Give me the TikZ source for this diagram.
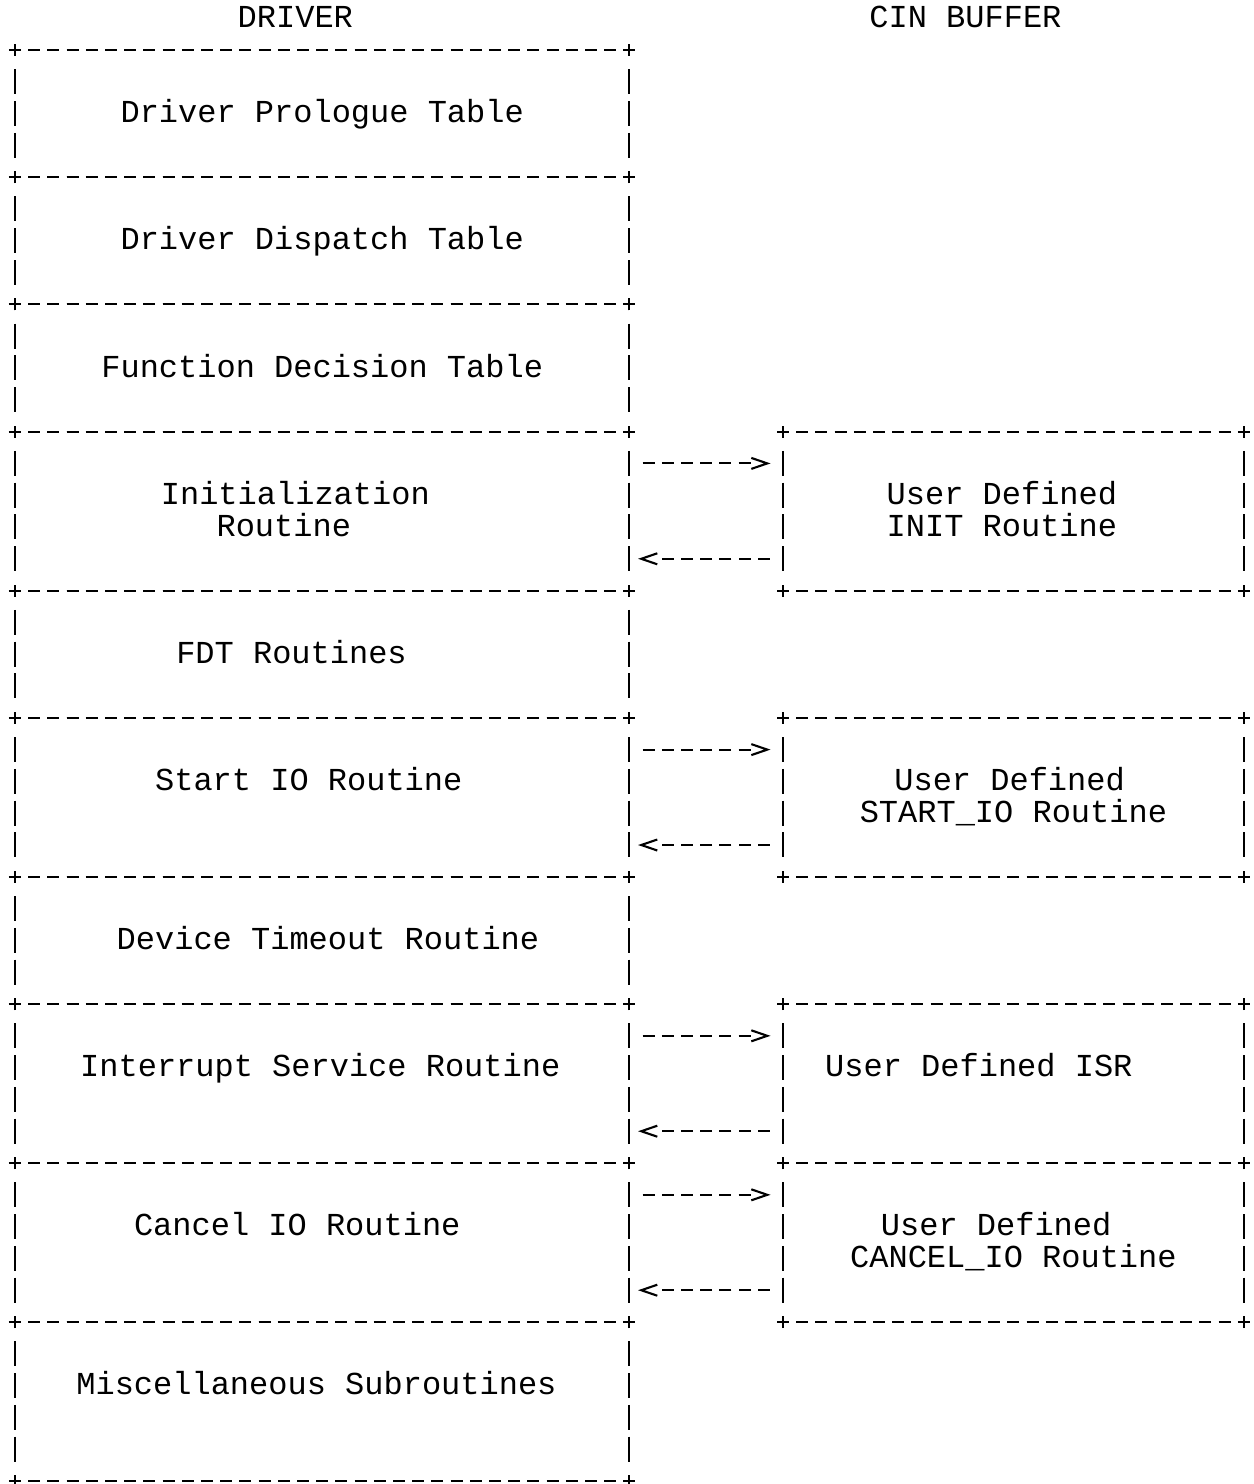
\documentclass[tikz,border=0pt]{standalone}
\usepackage{fontspec}
\setmonofont{Liberation Mono}
\usetikzlibrary{arrows.meta,calc}

\tikzset{
  hdash/.style={dash pattern=on 6pt off 3.6pt},
  vdash/.style={dash pattern=on 12.5pt off 3.4pt},
  adash/.style={dash pattern=on 6pt off 3.6pt on 6pt off 3.6pt on 6pt off 3.6pt on 6pt off 3.6pt on 6pt off 3.6pt on 6pt off 20pt,
    -{Straight Barb[length=8pt,width=5.5pt]}},
  frame/.style={rectangle, inner sep=0pt, outer sep=0pt},
  lbl/.style={inner sep=0pt, text height=9.1pt, text depth=0pt},
  crn/.pic={\draw[solid] (-3pt,0pt) -- (3pt,0pt) (0pt,-3pt) -- (0pt,3pt);}
}

\begin{document}
\begin{tikzpicture}[x=9.6pt, y=-15.9pt, line width=1.05pt, font=\ttfamily\fontsize{16}{15.9}\selectfont]
\useasboundingbox (-0.781,-1.572) rectangle (64.53,45.094);
% boxes: name/left/right/top row/bottom row
\foreach \n/\xa/\xb/\ra/\rb in {prolog/0/32/0/4, dispatch/0/32/4/8, fdtab/0/32/8/12,
    init/0/32/12/17, fdt/0/32/17/21, startio/0/32/21/26, tmo/0/32/26/30,
    isr/0/32/30/35, cancel/0/32/35/40, misc/0/32/40/45,
    uinit/40/64/12/17, ustart/40/64/21/26, uisr/40/64/30/35, ucancel/40/64/35/40}{
  \node[frame, minimum width={(\xb-\xa)*9.6pt}, minimum height={(\rb-\ra)*15.9pt}] (\n) at ({(\xa+\xb)/2},{(\ra+\rb)/2}) {};
  \draw[hdash] (\xa+0.69,\ra) -- (\xb-0.69,\ra) (\xa+0.69,\rb) -- (\xb-0.69,\rb);
  \draw[vdash] (\xa,\ra+0.605) -- (\xa,\rb-0.605) (\xb,\ra+0.605) -- (\xb,\rb-0.605);
  \foreach \c in {\xa,\xb} \foreach \r in {\ra,\rb} \pic at (\c,\r) {crn};
}
% texts, one line each
\foreach \n/\x/\r/\t in {hdrv/14.6/-1/DRIVER, hcin/49.5/-1/CIN BUFFER,
    prolog-t/16/2/Driver Prologue Table, dispatch-t/16/6/Driver Dispatch Table,
    fdtab-t/16/10/Function Decision Table, init-a/14.6/14/Initialization, init-b/14/15/Routine,
    fdt-t/14.4/19/FDT Routines, startio-t/15.3/23/Start IO Routine,
    tmo-t/16.3/28/Device Timeout Routine, isr-t/15.9/32/Interrupt Service Routine,
    cancel-t/14.7/37/Cancel IO Routine, misc-t/15.7/42/Miscellaneous Subroutines,
    uinit-a/51.4/14/User Defined, uinit-b/51.4/15/INIT Routine,
    ustart-a/51.8/23/User Defined, ustart-b/52/24/START\_IO Routine,
    uisr-t/50.2/32/User Defined ISR,
    ucancel-a/51.1/37/User Defined, ucancel-b/52/38/CANCEL\_IO Routine}
  \node[lbl] (\n) at (\x,\r) {\t};
% calls out and back
\foreach \a/\b in {init/uinit, startio/ustart, isr/uisr, cancel/ucancel}{
  \draw[adash] ($(\a.north east)+(0.69,1)$) -- ($(\b.north west)+(-0.65,1)$);
  \draw[adash] ($(\b.south west)+(-0.69,-1)$) -- ($(\a.south east)+(0.45,-1)$);
}
\end{tikzpicture}
\end{document}
